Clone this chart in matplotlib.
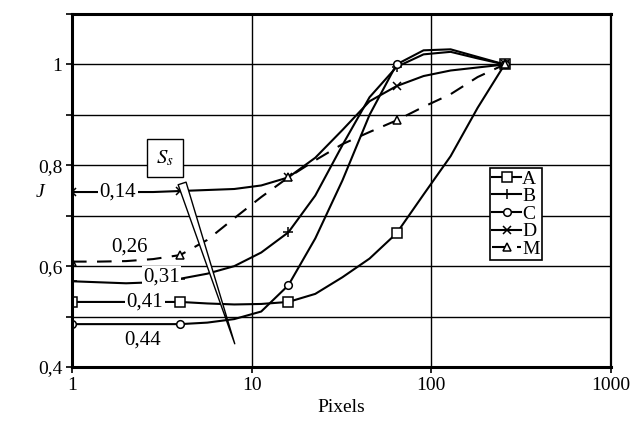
import matplotlib
matplotlib.use("Agg")
import matplotlib.pyplot as plt
from matplotlib.ticker import FixedLocator, FuncFormatter

plt.rcParams['font.family'] = ['Liberation Serif', 'DejaVu Serif']
plt.rcParams['mathtext.fontset'] = 'stix'

# x positions (pixels), powers of sqrt(2) from 1 to 256
x = [1, 1.41, 2, 2.83, 4, 5.66, 8, 11.3, 16, 22.6, 32, 45.3, 64, 90.5, 128, 181, 256]

A = [0.529, 0.529, 0.529, 0.529, 0.529, 0.526, 0.524, 0.525, 0.529, 0.545, 0.578,
     0.615, 0.665, 0.742, 0.818, 0.914, 1.0]
B = [0.570, 0.568, 0.566, 0.568, 0.575, 0.585, 0.600, 0.627, 0.667, 0.74, 0.84,
     0.935, 0.995, 1.02, 1.025, 1.012, 1.0]
C = [0.485, 0.485, 0.485, 0.485, 0.485, 0.488, 0.495, 0.510, 0.562, 0.655, 0.77,
     0.90, 1.0, 1.028, 1.03, 1.015, 1.0]
D = [0.747, 0.747, 0.747, 0.747, 0.749, 0.751, 0.753, 0.760, 0.776, 0.815, 0.87,
     0.927, 0.957, 0.977, 0.988, 0.994, 1.0]
M = [0.609, 0.609, 0.610, 0.614, 0.622, 0.652, 0.695, 0.737, 0.776, 0.81, 0.842,
     0.866, 0.889, 0.916, 0.941, 0.975, 1.0]

fig = plt.figure(figsize=(6.34, 4.25), dpi=100)
ax = fig.add_axes([0.1136, 0.1365, 0.8501, 0.8305])

k = dict(color='black', lw=1.5, markevery=4, mfc='white', mec='black', mew=1.1)
ax.plot(x, A, marker='s', ms=7, label='A', **k)
ax.plot(x, B, marker='+', ms=7, label='B', **k)
ax.plot(x, C, marker='o', ms=5.5, label='C', **k)
ax.plot(x, D, marker='x', ms=6, label='D', **k)
ax.plot(x, M, marker='^', ms=6, ls=(0, (7, 5)), label='M', **k)

ax.set_xscale('log')
ax.set_xlim(1, 1000)
ax.set_ylim(0.4, 1.1)
ax.xaxis.set_major_locator(FixedLocator([1, 10, 100, 1000]))
ax.xaxis.set_minor_locator(FixedLocator([]))
ax.xaxis.set_major_formatter(FuncFormatter(lambda v, p: '%d' % v))
yt = [0.4, 0.5, 0.6, 0.7, 0.8, 0.9, 1.0, 1.1]
ax.yaxis.set_major_locator(FixedLocator(yt))
ylab = {0.4: '0,4', 0.6: '0,6', 0.8: '0,8', 1.0: '1'}
ax.yaxis.set_major_formatter(FuncFormatter(lambda v, p: ylab.get(round(v, 1), '')))
ax.tick_params(labelsize=14, length=4, width=1.2, direction='out', pad=3, colors='black')
ax.grid(True, color='black', lw=1)
ax.set_axisbelow(True)
for s in ['left', 'bottom', 'top']:
    ax.spines[s].set_linewidth(2.2)
ax.spines['right'].set_linewidth(1.6)

ax.set_xlabel('Pixels', fontsize=14, labelpad=4)
ax.set_ylabel('J', fontsize=14, style='italic', rotation=0, va='center', ha='center')
ax.yaxis.set_label_coords(-0.06, 0.495)

wb = dict(facecolor='white', edgecolor='none', pad=1)
ax.text(1.8, 0.747, '0,14', fontsize=15, ha='center', va='center', bbox=wb)
ax.text(2.1, 0.637, '0,26', fontsize=15, ha='center', va='center')
ax.text(3.15, 0.578, '0,31', fontsize=15, ha='center', va='center', bbox=wb)
ax.text(2.55, 0.529, '0,41', fontsize=15, ha='center', va='center', bbox=wb)
ax.text(2.48, 0.453, '0,44', fontsize=15, ha='center', va='center')

ax.annotate('', xy=(8.05, 0.446), xytext=(4.1, 0.764),
            arrowprops=dict(arrowstyle='wedge,tail_width=0.6', fc='white', ec='black',
                            lw=1, shrinkA=0, shrinkB=0))
ax.text(3.3, 0.814, r'$S_s$', fontsize=15, ha='center', va='center',
        bbox=dict(facecolor='white', edgecolor='black', lw=1, boxstyle='square,pad=0.45'))

leg = ax.legend(loc='upper left', bbox_to_anchor=(0.7755, 0.5637), fontsize=14,
                frameon=True, fancybox=False, edgecolor='black', framealpha=1,
                borderpad=0.1, labelspacing=0.0, handlelength=1.5, handletextpad=0.05,
                borderaxespad=0)
leg.get_frame().set_linewidth(1.2)

fig.savefig('out.png', dpi=100)
